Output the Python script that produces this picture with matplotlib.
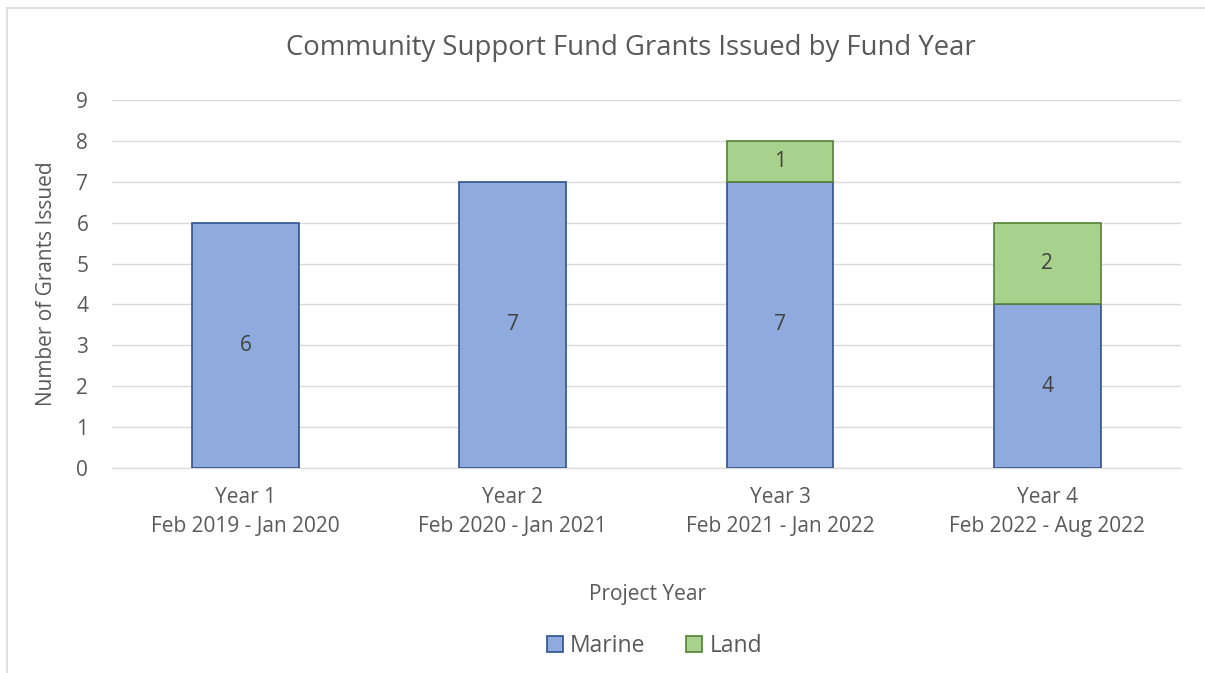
import matplotlib.pyplot as plt
from matplotlib.lines import Line2D

# --- Data ---
categories = ["Year 1\nFeb 2019 - Jan 2020", "Year 2\nFeb 2020 - Jan 2021",
              "Year 3\nFeb 2021 - Jan 2022", "Year 4\nFeb 2022 - Aug 2022"]
marine = [6, 7, 7, 4]
land = [0, 0, 1, 2]

TEXT = "#595959"
plt.rcParams['font.family'] = ['Open Sans', 'DejaVu Sans']

fig = plt.figure(figsize=(12.05, 6.73), dpi=100)
ax = fig.add_axes([0.0929, 0.3046, 0.8871, 0.5468])

x = list(range(len(categories)))
b1 = ax.bar(x, marine, width=0.4, color="#8FAADC", edgecolor="#2F528F", linewidth=1.2, label="Marine", zorder=3)
# skip zero-height land segments so no stray edge is drawn
lx = [i for i in x if land[i] > 0]
b2 = ax.bar(lx, [land[i] for i in lx], width=0.4, bottom=[marine[i] for i in lx],
            color="#A9D18E", edgecolor="#548235", linewidth=1.2, label="Land", zorder=3)

for i, (m, l) in enumerate(zip(marine, land)):
    ax.text(i, m / 2, str(m), ha="center", va="center", fontsize=15, color="#404040", zorder=4)
    if l:
        ax.text(i, m + l / 2, str(l), ha="center", va="center", fontsize=15, color="#404040", zorder=4)

ax.set_xlim(-0.5, 3.5)
ax.set_ylim(0, 9)
ax.set_yticks(range(10))
ax.set_xticks(x)
ax.set_xticklabels(categories, linespacing=1.45)
ax.grid(axis="y", color="#D9D9D9", linewidth=1, zorder=0)
for s in ["top", "right", "left"]:
    ax.spines[s].set_visible(False)
ax.spines["bottom"].set_color("#D9D9D9")
ax.tick_params(length=0, labelsize=15, colors=TEXT)
ax.tick_params(axis="x", pad=14)
ax.tick_params(axis="y", pad=17)

fig.text(0.5237, 0.9287, "Community Support Fund Grants Issued by Fund Year",
         ha="center", va="center", fontsize=19.8, color=TEXT)
ax.set_ylabel("Number of Grants Issued", fontsize=15, color=TEXT, labelpad=14)
fig.text(0.537, 0.117, "Project Year", ha="center", va="center", fontsize=15, color=TEXT)

fig.legend(handles=[b1, b2], loc="center", bbox_to_anchor=(0.543, 0.04), ncol=2, frameon=False,
           fontsize=16.5, labelcolor=TEXT, handlelength=0.7, handleheight=0.7, handletextpad=0.3, columnspacing=1.8)

# chart border (only top and left edges visible in the crop)
bx, by = 6.5 / 1205, 1 - 7.5 / 673
fig.add_artist(Line2D([bx, bx], [0, by], transform=fig.transFigure, color="#D9D9D9", linewidth=1.2))
fig.add_artist(Line2D([bx, 1], [by, by], transform=fig.transFigure, color="#D9D9D9", linewidth=1.2))

fig.savefig("out.png", dpi=100)
